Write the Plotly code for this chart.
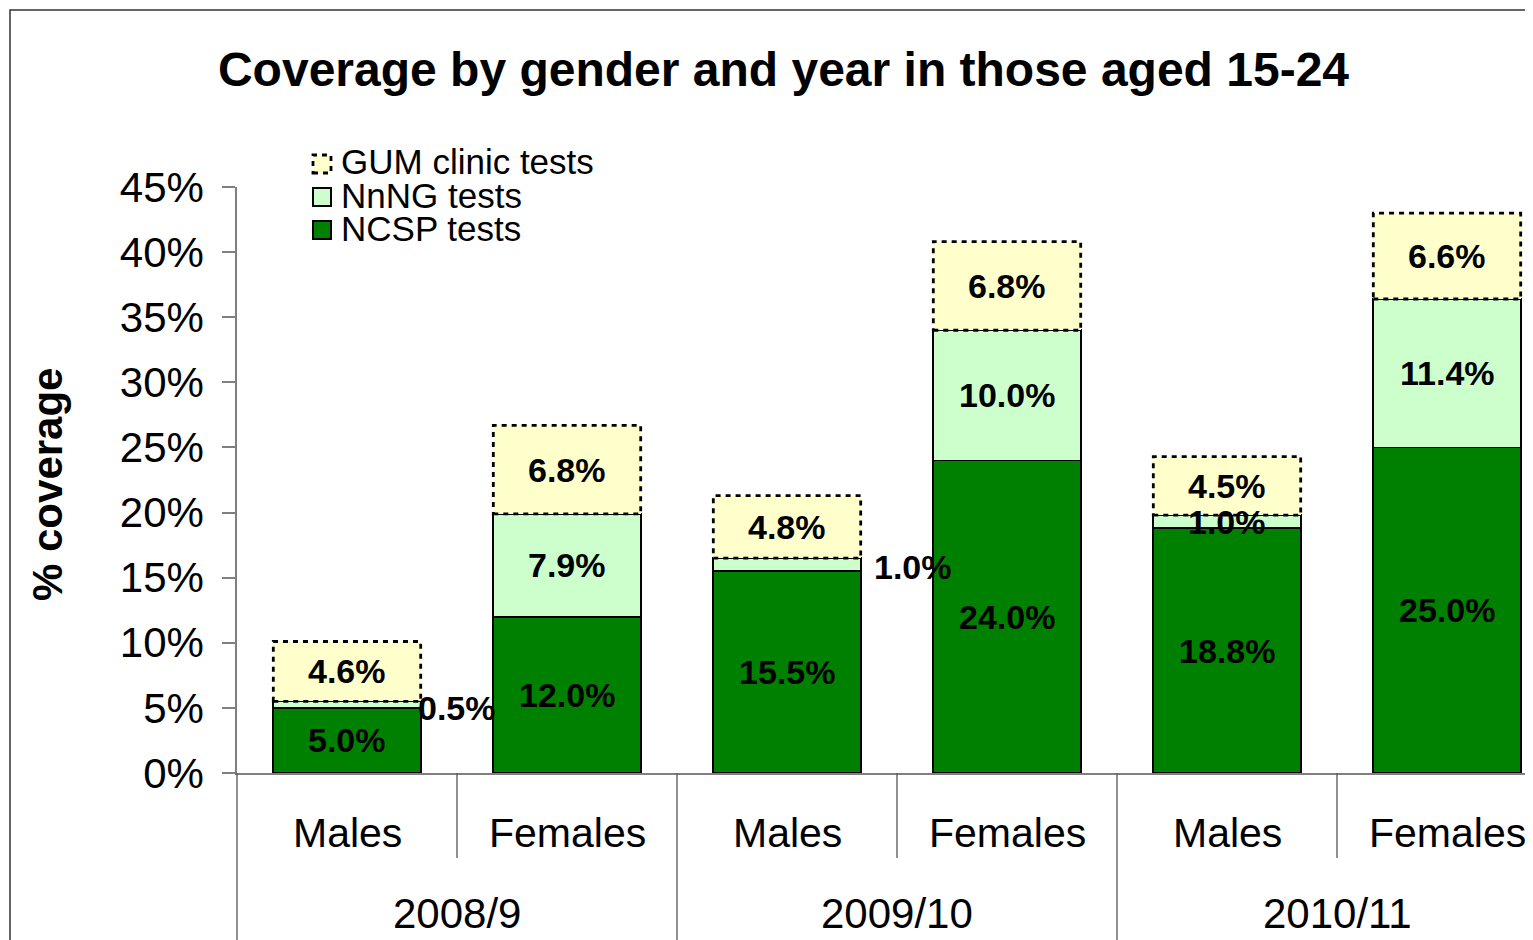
import plotly.graph_objects as go

# ---------------- data ----------------
years = ["2008/9", "2009/10", "2010/11"]
genders = ["Males", "Females"]
ncsp = [5.0, 12.0, 15.5, 24.0, 18.8, 25.0]
nnng = [0.5, 7.9, 1.0, 10.0, 1.0, 11.4]
gum = [4.6, 6.8, 4.8, 6.8, 4.5, 6.6]
y_ticks = [0, 5, 10, 15, 20, 25, 30, 35, 40, 45]
series_names = ["NCSP tests", "NnNG tests", "GUM clinic tests"]

# ---------------- layout constants ----------------
W, H = 1533, 940
OFF = 8  # page body margin offset
L, T = 237 - OFF, 187 - OFF
plot_w, plot_h = 1296, 586
R = W - L - plot_w
B = H - T - plot_h
slot_px = 220.0
x_range = [-0.5, -0.5 + plot_w / slot_px]
bar_w = 0.67
FONT = "Liberation Sans, Arial, Helvetica, sans-serif"
C_NCSP = "#008000"
C_NNNG = "#CCFFCC"
C_GUM = "#FFFFCC"


def px_x(px):
    return (px - OFF - L) / plot_w


def px_y(py):
    return (T + plot_h - (py - OFF)) / plot_h


def x_to_paper(xv):
    return (xv - x_range[0]) / (x_range[1] - x_range[0])


n = len(ncsp)
xs = list(range(n))

fig = go.Figure()
fig.add_trace(go.Bar(x=xs, y=ncsp, width=bar_w, name=series_names[0],
                     marker=dict(color=C_NCSP, line=dict(color="black", width=1.8))))
fig.add_trace(go.Bar(x=xs, y=nnng, width=bar_w, name=series_names[1],
                     marker=dict(color=C_NNNG, line=dict(color="black", width=1.8))))
fig.add_trace(go.Bar(x=xs, y=gum, width=bar_w, name=series_names[2],
                     marker=dict(color=C_GUM, line=dict(width=0))))

shapes = []
annotations = []

# dashed outline for GUM segments
for i in xs:
    base = ncsp[i] + nnng[i]
    shapes.append(dict(type="rect", xref="x", yref="y",
                       x0=i - bar_w / 2, x1=i + bar_w / 2,
                       y0=base, y1=base + gum[i],
                       line=dict(color="black", width=2.8, dash="5px,5px"),
                       fillcolor="rgba(0,0,0,0)", layer="above"))

# data labels
label_shift = {(0, 1): (110, -3), (2, 1): (126, -2)}
for i in xs:
    bases = [0, ncsp[i], ncsp[i] + nnng[i]]
    vals = [ncsp[i], nnng[i], gum[i]]
    for s in range(3):
        dx, dy = label_shift.get((i, s), (0, 0))
        annotations.append(dict(x=i, y=bases[s] + vals[s] / 2, xref="x", yref="y",
                                text=f"{vals[s]:.1f}%", showarrow=False,
                                xshift=dx, yshift=dy,
                                xanchor="center", yanchor="middle",
                                font=dict(family=FONT, size=34, color="black", weight="bold")))

# category labels
for i in xs:
    annotations.append(dict(x=i, y=px_y(833), xref="x", yref="paper",
                            text=genders[i % 2], showarrow=False,
                            xanchor="center", yanchor="middle",
                            font=dict(family=FONT, size=41, color="black")))
for k, yr in enumerate(years):
    annotations.append(dict(x=2 * k + 0.5, y=px_y(913), xref="x", yref="paper",
                            text=yr, showarrow=False,
                            xanchor="center", yanchor="middle",
                            font=dict(family=FONT, size=42, color="black")))

# category dividers
for b in range(n + 1):
    xb = b - 0.5
    long_line = (b % 2 == 0)
    shapes.append(dict(type="line", xref="paper", yref="paper",
                       x0=x_to_paper(xb), x1=x_to_paper(xb),
                       y0=0, y1=px_y(960 if long_line else 858),
                       line=dict(color="#555555", width=1.3)))

# axis title
annotations.append(dict(x=px_x(47), y=px_y(484), xref="paper", yref="paper",
                        text="% coverage", textangle=-90, showarrow=False,
                        xanchor="center", yanchor="middle",
                        font=dict(family=FONT, size=42, color="black", weight="bold")))

# manual legend
legend_items = [(series_names[2], C_GUM, 164, "dash"),
                (series_names[1], C_NNNG, 197, "solid"),
                (series_names[0], C_NCSP, 230, "solid")]
for name, col, yc, style in legend_items:
    if style == "dash":
        line = dict(color="black", width=2.8, dash="5px,5px")
    else:
        line = dict(color="black", width=2)
    shapes.append(dict(type="rect", xref="paper", yref="paper",
                       x0=px_x(313), x1=px_x(331), y0=px_y(yc + 9), y1=px_y(yc - 9),
                       fillcolor=col, line=line))
    annotations.append(dict(x=px_x(339), y=px_y(yc - 2), xref="paper", yref="paper",
                            text=name, showarrow=False, xanchor="left", yanchor="middle",
                            font=dict(family=FONT, size=35, color="black")))

# outer chart border (left/top visible)
shapes.append(dict(type="rect", xref="paper", yref="paper",
                   x0=px_x(10), x1=px_x(W + 40), y0=px_y(H + 40), y1=px_y(10),
                   line=dict(color="#333333", width=1.5), fillcolor="rgba(0,0,0,0)"))

fig.update_layout(
    width=W, height=H,
    margin=dict(l=L, r=R, t=T, b=B, pad=0),
    barmode="stack",
    showlegend=False,
    plot_bgcolor="white", paper_bgcolor="white",
    title=dict(text="Coverage by gender and year in those aged 15-24",
               x=(783.5 - OFF) / W, xref="container", xanchor="center",
               y=1 - (69 - OFF) / H, yref="container", yanchor="middle",
               font=dict(family=FONT, size=48, color="black", weight="bold")),
    xaxis=dict(range=x_range, showticklabels=False, ticks="", showgrid=False,
               zeroline=False, showline=True, linecolor="#808080", linewidth=1.5),
    yaxis=dict(range=[0, 45], tickvals=y_ticks, ticktext=[f"{v}%" for v in y_ticks],
               ticks="outside", ticklen=13, tickcolor="#808080", tickwidth=1.5,
               showgrid=False, zeroline=False, showline=True, linecolor="#808080",
               linewidth=1.5, ticklabelstandoff=10,
               tickfont=dict(family=FONT, size=42, color="black")),
    shapes=shapes,
    annotations=annotations,
)

fig.write_html("out.html")
